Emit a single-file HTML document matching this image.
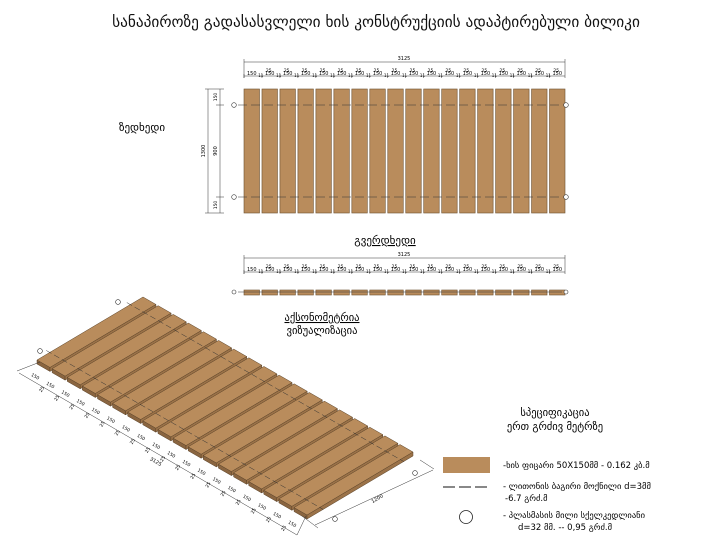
<!DOCTYPE html>
<html><head><meta charset="utf-8"><style>
body{margin:0;background:#fff;width:720px;height:558px;overflow:hidden}
svg{display:block;font-family:"DejaVu Sans","Liberation Sans",sans-serif}
</style></head><body>
<svg id="s" width="720" height="558" viewBox="0 0 720 558" xmlns="http://www.w3.org/2000/svg">
<text x="376" y="27" font-size="15.3" text-anchor="middle" fill="#111">სანაპიროზე გადასასვლელი ხის კონსტრუქციის ადაპტირებული  ბილიკი</text>
<text x="142" y="131" font-size="11" text-anchor="middle">ზედხედი</text>
<text x="385" y="244" font-size="11" text-anchor="middle" text-decoration="underline">გვერდხედი</text>
<text x="322" y="321" font-size="10.5" text-anchor="middle" text-decoration="underline">აქსონომეტრია</text>
<text x="322" y="334" font-size="10.5" text-anchor="middle">ვიზუალიზაცია</text>
<text x="555" y="416" font-size="10.5" text-anchor="middle">სპეციფიკაცია</text>
<text x="555" y="430" font-size="10.5" text-anchor="middle">ერთ გრძივ მეტრზე</text>
<rect x="443" y="457" width="47" height="16" fill="#b98c5c"/>
<text x="503" y="468" font-size="8.5">-ხის ფიცარი 50X150მმ  -      0.162 კბ.მ</text>
<line x1="443" y1="487" x2="490" y2="487" stroke="#111" stroke-width="1" stroke-dasharray="12,4"/>
<text x="503" y="489" font-size="8.5">- ლითონის ბაგირი მოქნილი d=3მმ</text>
<text x="505" y="501" font-size="8.5">-6.7 გრძ.მ</text>
<circle cx="466" cy="517" r="6.5" fill="none" stroke="#222" stroke-width="0.8"/>
<text x="503" y="518" font-size="8.5">- პლასმასის მილი სქელკედლიანი</text>
<text x="518" y="530" font-size="8.5">d=32 მმ. -- 0,95 გრძ.მ</text>
<g id="g"></g>
</svg>
<script>
var g=document.getElementById('g'),h='';
function L(a,b,c,d,st){h+='<line x1="'+a+'" y1="'+b+'" x2="'+c+'" y2="'+d+'" stroke="#333" stroke-width="0.5" '+(st||'')+'/>';}
function T(x,y,t,fs,tr){h+='<text x="'+x+'" y="'+y+'" font-size="'+fs+'" text-anchor="middle" '+(tr||'')+'>'+t+'</text>';}
var x0=244,pw=15.5,pt=(565-x0-pw)/17;
for(var i=0;i<18;i++){var x=x0+i*pt;h+='<rect x="'+x+'" y="89" width="'+pw+'" height="124" fill="#b98c5c" stroke="#6b5030" stroke-width="0.6"/>';}
[105,197].forEach(function(y){L(238,y,562,y,'stroke="#222" stroke-width="0.9" stroke-dasharray="9,4"');
h+='<circle cx="234" cy="'+y+'" r="2.3" fill="#fff" stroke="#333" stroke-width="0.6"/><circle cx="566" cy="'+y+'" r="2.3" fill="#fff" stroke="#333" stroke-width="0.6"/>';});
function dims(yl,yt){L(x0,yl,565,yl);L(x0,yl-3,x0,yt+6);L(565,yl-3,565,yt+6);T(404,yl-2,'3125',5);
L(x0,yt+4,565,yt+4);
for(var i=0;i<18;i++){var x=x0+i*pt;T(x+pw/2,yt+3,'150',5);if(i<17){T(x+pw+pt-pw/2-1,yt,'25',4.5);T(x+pw+(pt-pw)/2,yt+5,'11',4);}L(x,yt+2,x,yt+6);}}
dims(62,72);dims(258,268);
L(208,89,208,213);L(220,89,220,213);L(205,89,224,89);L(205,213,224,213);L(216,105,224,105);L(216,197,224,197);
T(205,151,'1300',5,'transform="rotate(-90 205 151)"');T(217,151,'900',5,'transform="rotate(-90 217 151)"');
T(217,97,'150',4.5,'transform="rotate(-90 217 97)"');T(217,205,'150',4.5,'transform="rotate(-90 217 205)"');
for(var i=0;i<18;i++){var x=x0+i*pt;h+='<rect x="'+x+'" y="290" width="'+pw+'" height="5" fill="#b98c5c" stroke="#6b5030" stroke-width="0.6"/>';}
L(238,292,562,292,'stroke="#222"');
h+='<circle cx="234" cy="292" r="2" fill="#fff" stroke="#333" stroke-width="0.6"/><circle cx="566" cy="292" r="2" fill="#fff" stroke="#333" stroke-width="0.6"/>';
var A=[37,360],v=[270/3125,155/3125],w=[106,-63],th=4;
function P(s,f){return [A[0]+s*v[0]+f*w[0],A[1]+s*v[1]+f*w[1]];}
function poly(pts,fill,dy){h+='<polygon points="'+pts.map(function(p){return p[0]+','+(p[1]+(dy||0))}).join(' ')+'" fill="'+fill+'" stroke="#5a4228" stroke-width="0.5"/>';}
for(var i=0;i<18;i++){var s=i*175;var a=P(s,0),b=P(s+150,0),c=P(s+150,1),d=P(s,1);
poly([a,b,[b[0],b[1]+th],[a[0],a[1]+th]],'#8a6540');
poly([b,c,[c[0],c[1]+th],[b[0],b[1]+th]],'#9b7248');
poly([a,b,c,d],'#b98c5c');}
[0.12,0.88].forEach(function(f){var p=P(-40,f),q=P(3165,f);L(p[0],p[1],q[0],q[1],'stroke="#333" stroke-width="0.4" stroke-dasharray="6,3"');});
[[118,302],[40,351],[415,473],[335,519]].forEach(function(c){h+='<circle cx="'+c[0]+'" cy="'+c[1]+'" r="2.4" fill="#fff" stroke="#333" stroke-width="0.6"/>';});
L(19,373,297,535);L(17,371,40,362);L(297,535,306,516);L(315,525,433,470);L(302,516,318,528);L(420,460,434,469);
for(var i=0;i<18;i++){var p=P(i*175+75,0);T(p[0]-9,p[1]+14,'150',4.5,'transform="rotate(30 '+(p[0]-9)+' '+(p[1]+14)+')"');
if(i<17){var q=P(i*175+162,0);T(q[0]-8,q[1]+22,'25',4.5,'transform="rotate(-60 '+(q[0]-8)+' '+(q[1]+22)+')"');}}
T(155,463,'3125',5,'transform="rotate(30 155 463)"');T(378,500,'1200',5,'transform="rotate(-30 378 500)"');
g.innerHTML=h;
</script>
</body></html>
